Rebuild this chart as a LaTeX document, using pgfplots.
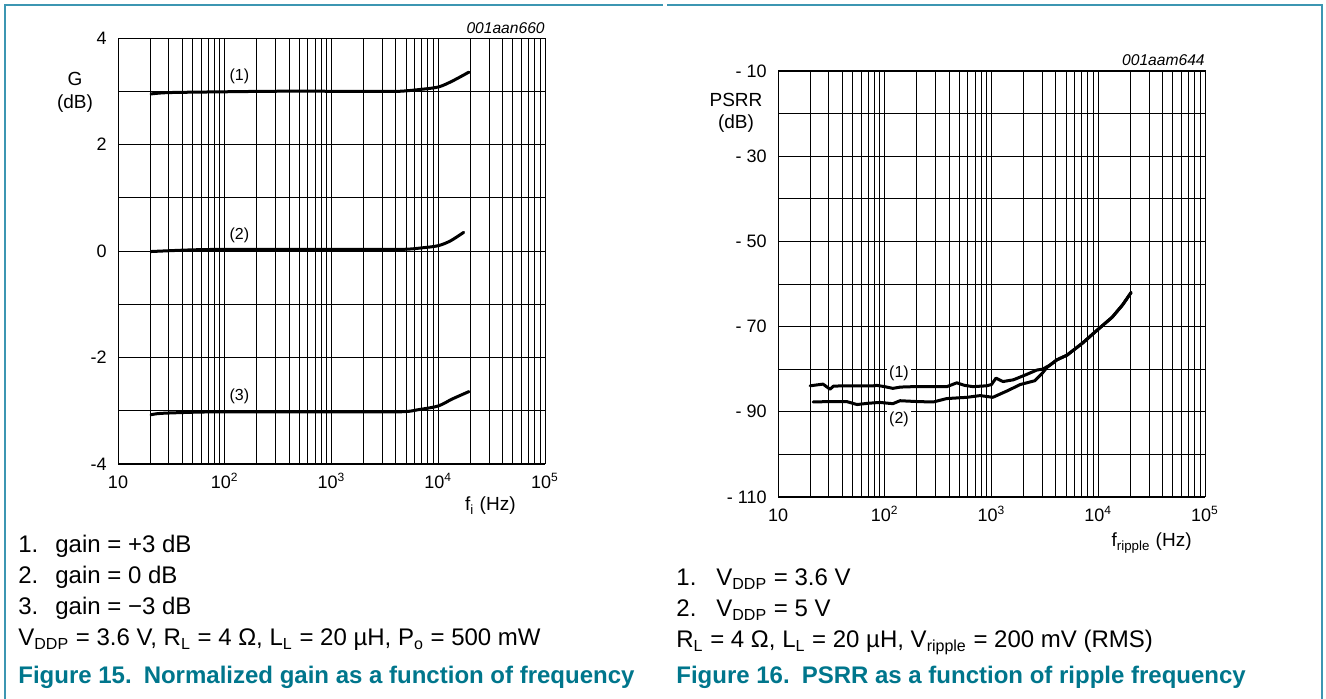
\documentclass[border=0pt]{standalone}
\usepackage{fontspec}
\setmainfont{Liberation Sans}
\usepackage{pgfplots}
\pgfplotsset{compat=1.18}

\definecolor{capteal}{RGB}{0,118,140}
\definecolor{frameteal}{RGB}{60,150,178}

\tikzset{
  dscurve/.style={line width=1.5pt, black, line join=round, line cap=round},
  dstag/.style={font=\fontsize{8}{9}\selectfont, inner sep=1.2pt, fill=white},
}

\begin{document}
\begin{tikzpicture}
\useasboundingbox (0,0) rectangle (663pt,349.5pt);

% frame lines
\begin{scope}[x=0.5pt, y=-0.5pt, shift={(0pt,349.5pt)}]
  \draw[frameteal, line width=0.8pt] (5,699) -- (5,5) -- (663,5);
  \draw[frameteal, line width=0.8pt] (667,5) -- (1322,5) -- (1322,699);
\end{scope}

% Figure 15: normalized gain
\begin{semilogxaxis}[at={(59pt,117.5pt)}, anchor=south west,
  scale only axis, width=213.5pt, height=213pt,
  xmin=10, xmax=100000,
  xtick={10,100,1000,10000,100000},
  xticklabels={10,10\textsuperscript{2},10\textsuperscript{3},10\textsuperscript{4},10\textsuperscript{5}},
  minor xtick={20,30,40,50,60,70,80,90,200,300,400,500,600,700,800,900,2000,3000,4000,5000,6000,7000,8000,9000,20000,30000,40000,50000,60000,70000,80000,90000},
  ymin=-4, ymax=4,
  ytick={-4,-2,0,2,4}, yticklabels={-4,-2,0,2,4},
  minor ytick={-3,-1,1,3},
  grid=both,
  major grid style={line width=0.45pt, black},
  minor grid style={line width=0.45pt, black},
  axis line style={line width=0.5pt},
  major tick length=0pt, minor tick length=0pt,
  tick label style={font=\fontsize{9}{10}\selectfont},
  xticklabel style={anchor=base, inner sep=0pt, yshift=-12.5pt},
  yticklabel style={anchor=east, inner sep=0pt, xshift=-5.5pt},
  clip=false]
\addplot[dscurve, no marks, smooth] coordinates {
  (20.4,2.95) (30,2.975) (100,2.99) (300,3.0) (1000,3.0) (3000,3.0)
  (4400,3.0) (6500,3.03) (10000,3.08) (13500,3.19) (19400,3.36)};
\addplot[dscurve, no marks, smooth] coordinates {
  (20.4,-0.01) (47,0.02) (100,0.03) (1000,0.03) (4400,0.03)
  (7100,0.06) (10000,0.10) (13000,0.19) (17300,0.35)};
\addplot[dscurve, no marks, smooth] coordinates {
  (20.4,-3.075) (25,-3.05) (47,-3.03) (100,-3.02) (1000,-3.02) (4400,-3.02)
  (6500,-2.98) (10000,-2.91) (13500,-2.78) (19400,-2.64)};
\node[dstag] at (axis cs:137,3.28) {(1)};
\node[dstag] at (axis cs:137,0.29) {(2)};
\node[dstag] at (axis cs:137,-2.73) {(3)};
\node[anchor=base east, inner sep=0pt, font=\fontsize{7.8}{9}\selectfont\itshape, yshift=2.5pt]
  at (rel axis cs:1,1) {001aan660};
\end{semilogxaxis}

% Figure 16: PSRR
\begin{semilogxaxis}[at={(389pt,101pt)}, anchor=south west,
  scale only axis, width=213.5pt, height=213pt,
  xmin=10, xmax=100000,
  xtick={10,100,1000,10000,100000},
  xticklabels={10,10\textsuperscript{2},10\textsuperscript{3},10\textsuperscript{4},10\textsuperscript{5}},
  minor xtick={20,30,40,50,60,70,80,90,200,300,400,500,600,700,800,900,2000,3000,4000,5000,6000,7000,8000,9000,20000,30000,40000,50000,60000,70000,80000,90000},
  ymin=-110, ymax=-10,
  ytick={-110,-90,-70,-50,-30,-10},
  yticklabels={- 110,- 90,- 70,- 50,- 30,- 10},
  minor ytick={-100,-80,-60,-40,-20},
  grid=both,
  major grid style={line width=0.45pt, black},
  minor grid style={line width=0.45pt, black},
  axis line style={line width=0.5pt},
  major tick length=0pt, minor tick length=0pt,
  tick label style={font=\fontsize{9}{10}\selectfont},
  xticklabel style={anchor=base, inner sep=0pt, yshift=-12.5pt},
  yticklabel style={anchor=east, inner sep=0pt, xshift=-5.5pt},
  clip=false]
\addplot[dscurve, no marks] coordinates {
  (20,-83.9) (23,-83.7) (26.4,-83.5) (30.7,-84.7) (33,-84.0) (40,-83.9)
  (55,-83.9) (78,-83.9) (84,-83.8) (100,-84.1) (119,-84.5) (140,-84.2)
  (185,-84.1) (280,-84.1) (382,-84.1) (473,-83.2) (560,-83.8) (670,-84.1)
  (900,-83.9) (1000,-83.6) (1100,-82.1) (1280,-82.9) (1600,-82.5)
  (2100,-81.3) (2660,-80.2) (3000,-80.0) (3500,-79.1) (4100,-77.8)
  (5100,-76.7) (7100,-73.9) (9800,-70.8) (13500,-67.8) (16900,-64.9)
  (20300,-62.0)};
\addplot[dscurve, no marks] coordinates {
  (21.3,-87.7) (30,-87.6) (44,-87.6) (55,-88.3) (70,-88.0) (90,-87.8)
  (119,-88.1) (139,-87.4) (200,-87.6) (285,-87.7) (380,-86.9) (590,-86.6)
  (780,-86.2) (1030,-86.6) (1400,-85.1) (1860,-83.6) (2550,-82.7)
  (3000,-80.9) (3300,-79.6) (4100,-77.8) (5100,-76.7) (7100,-73.9)
  (9800,-70.8) (13500,-67.8) (16900,-64.9) (20300,-62.0)};
\node[dstag] at (axis cs:136,-80.9) {(1)};
\node[dstag] at (axis cs:136,-91.7) {(2)};
\node[anchor=base east, inner sep=0pt, font=\fontsize{7.8}{9}\selectfont\itshape, yshift=2.5pt]
  at (rel axis cs:1,1) {001aam644};
\end{semilogxaxis}

% texts, positioned in pixel units of the reference
\begin{scope}[x=0.5pt, y=-0.5pt, shift={(0pt,349.5pt)},
  every node/.style={inner sep=0pt, font=\fontsize{12}{14}\selectfont}]
  % axis labels
  \node[align=center, font=\fontsize{9.5}{11.5}\selectfont] at (75,92) {G\\(dB)};
  \node[anchor=base east, font=\fontsize{9.5}{11}\selectfont] at (516,511) {f\textsubscript{i} (Hz)};
  \node[align=center, font=\fontsize{9.5}{11}\selectfont] at (736,113) {PSRR\\(dB)};
  \node[anchor=base east, font=\fontsize{9.5}{11}\selectfont] at (1192,547) {f\textsubscript{ripple} (Hz)};
  % notes of figure 15
  \node[anchor=base west] at (18,553) {1.};
  \node[anchor=base west] at (55,553) {gain = +3 dB};
  \node[anchor=base west] at (18,584) {2.};
  \node[anchor=base west] at (55,584) {gain = 0 dB};
  \node[anchor=base west] at (18,615) {3.};
  \node[anchor=base west] at (55,615) {gain = −3 dB};
  \node[anchor=base west] at (18,646) {V\textsubscript{DDP} = 3.6 V, R\textsubscript{L} = 4 Ω, L\textsubscript{L} = 20 µH, P\textsubscript{o} = 500 mW};
  \node[anchor=base west, text=capteal, font=\fontsize{12}{14}\selectfont\bfseries] at (18,684)
    {Figure 15.\hspace{0.5em}Normalized gain as a function of frequency};
  % notes of figure 16
  \node[anchor=base west] at (676,586) {1.};
  \node[anchor=base west] at (716,586) {V\textsubscript{DDP} = 3.6 V};
  \node[anchor=base west] at (676,617) {2.};
  \node[anchor=base west] at (716,617) {V\textsubscript{DDP} = 5 V};
  \node[anchor=base west] at (676,648) {R\textsubscript{L} = 4 Ω, L\textsubscript{L} = 20 µH, V\textsubscript{ripple} = 200 mV (RMS)};
  \node[anchor=base west, text=capteal, font=\fontsize{12}{14}\selectfont\bfseries] at (676,684)
    {Figure 16.\hspace{0.5em}PSRR as a function of ripple frequency};
\end{scope}
\end{tikzpicture}
\end{document}
